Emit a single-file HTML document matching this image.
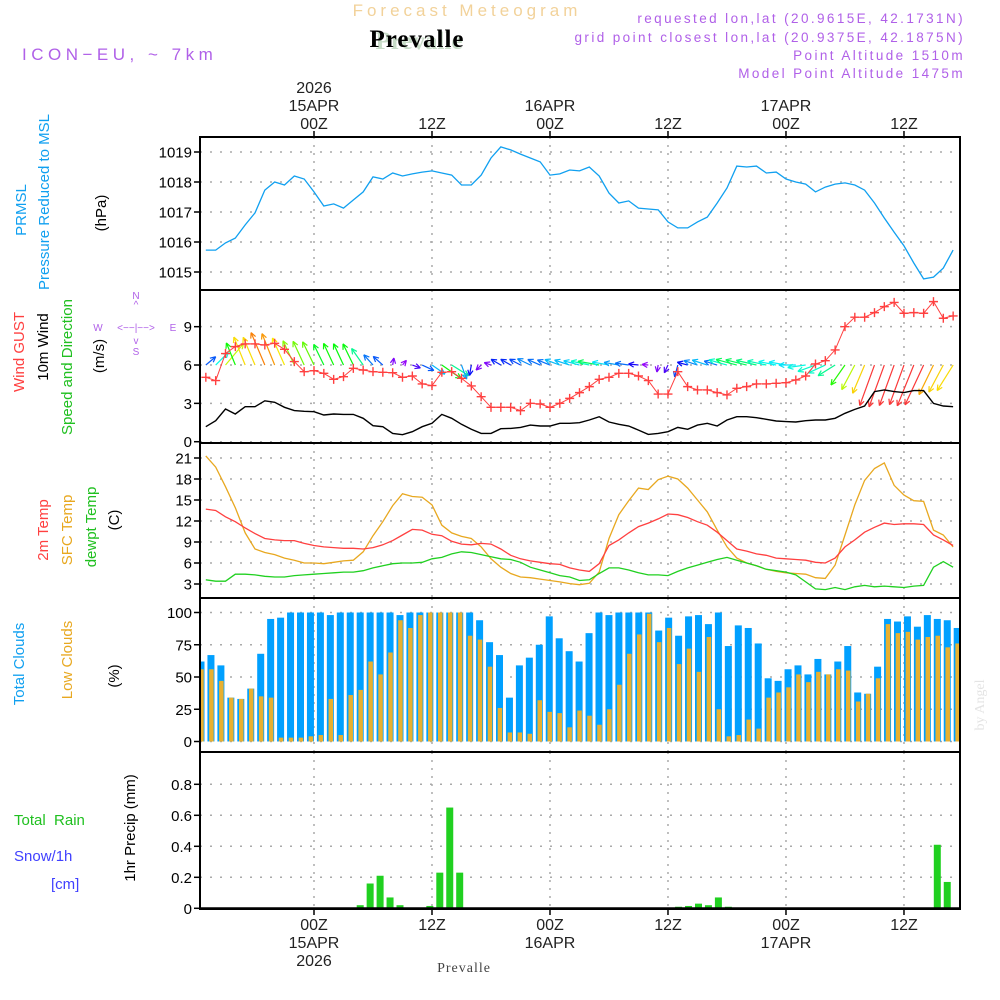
<!DOCTYPE html>
<html><head><meta charset="utf-8"><style>
html,body{margin:0;padding:0;background:#fff;}
svg{display:block;font-family:"Liberation Sans",sans-serif;}
</style></head><body>
<svg id="chart" width="1000" height="1000" viewBox="0 0 1000 1000">
<g id="texts">
<text x="467" y="16" text-anchor="middle" font-size="17" fill="#f2d29a" letter-spacing="4">Forecast Meteogram</text>
<text x="419" y="49" text-anchor="middle" font-size="25" font-weight="bold" fill="#c8dcc8" font-family="Liberation Serif,serif">Prevalle</text>
<text x="417" y="47" text-anchor="middle" font-size="25" font-weight="bold" fill="#000" font-family="Liberation Serif,serif" letter-spacing="1">Prevalle</text>
<text x="22" y="60" font-size="17" fill="#b060e8" letter-spacing="4.5">ICON−EU, ~ 7km</text>
<g font-size="13.5" fill="#b060e8" text-anchor="end" letter-spacing="2.4">
<text x="965" y="23">requested lon,lat (20.9615E, 42.1731N)</text>
<text x="965" y="42">grid point closest lon,lat (20.9375E, 42.1875N)</text>
<text x="965" y="60">Point Altitude 1510m</text>
<text x="965" y="78">Model Point Altitude 1475m</text>
</g>
<text x="464" y="972" text-anchor="middle" font-size="14" fill="#444" font-family="Liberation Serif,serif" letter-spacing="1">Prevalle</text>
<text transform="translate(984,705) rotate(-90)" text-anchor="middle" font-size="14" fill="#e4e4e4" font-family="Liberation Serif,serif">by Angel</text>
<g font-size="15">
<text transform="translate(26,210) rotate(-90)" text-anchor="middle" fill="#10a0f0">PRMSL</text>
<text transform="translate(49,202) rotate(-90)" text-anchor="middle" fill="#10a0f0">Pressure Reduced to MSL</text>
<text transform="translate(106,213) rotate(-90)" text-anchor="middle" fill="#000">(hPa)</text>
<text transform="translate(24,352) rotate(-90)" text-anchor="middle" fill="#ff4040">Wind GUST</text>
<text transform="translate(48,347) rotate(-90)" text-anchor="middle" fill="#000">10m Wind</text>
<text transform="translate(72,367) rotate(-90)" text-anchor="middle" fill="#20c020">Speed and Direction</text>
<text transform="translate(104,356) rotate(-90)" text-anchor="middle" fill="#000">(m/s)</text>
<text transform="translate(48,530) rotate(-90)" text-anchor="middle" fill="#ff4040">2m Temp</text>
<text transform="translate(72,530) rotate(-90)" text-anchor="middle" fill="#e8a820">SFC Temp</text>
<text transform="translate(96,527) rotate(-90)" text-anchor="middle" fill="#20c020">dewpt Temp</text>
<text transform="translate(119,520) rotate(-90)" text-anchor="middle" fill="#000">(C)</text>
<text transform="translate(24,664) rotate(-90)" text-anchor="middle" fill="#10a0f0">Total Clouds</text>
<text transform="translate(72,660) rotate(-90)" text-anchor="middle" fill="#e8a820">Low Clouds</text>
<text transform="translate(119,676) rotate(-90)" text-anchor="middle" fill="#000">(%)</text>
<text x="14" y="825" fill="#20c020" xml:space="preserve">Total  Rain</text>
<text x="14" y="861" fill="#4040ff">Snow/1h</text>
<text x="51" y="889" fill="#4040ff">[cm]</text>
<text transform="translate(135,828) rotate(-90)" text-anchor="middle" fill="#000">1hr Precip (mm)</text>
</g>
<g font-size="10" fill="#b060e8" text-anchor="middle">
<text x="136" y="299">N</text><text x="136" y="308">^</text>
<text x="98" y="331">W</text><text x="136" y="331">&lt;−−|−−&gt;</text><text x="173" y="331">E</text>
<text x="136" y="344">v</text><text x="136" y="355">S</text>
</g>
</g>
<g id="grid"></g>
<g id="marks"></g>
<g id="frame"></g>
</svg>
<script>
// ---------------- data ----------------
const hours = [];
for (let h = -11; h <= 65; h++) hours.push(h);
const pressure = [1015.73,1015.73,1015.97,1016.13,1016.57,1016.97,1017.73,1018.0,1017.9,1018.2,1018.1,1017.67,1017.2,1017.27,1017.13,1017.4,1017.67,1018.17,1018.1,1018.3,1018.2,1018.27,1018.33,1018.37,1018.3,1018.23,1017.9,1017.9,1018.23,1018.8,1019.17,1019.07,1018.93,1018.8,1018.67,1018.23,1018.27,1018.4,1018.37,1018.5,1018.2,1017.63,1017.3,1017.37,1017.13,1017.1,1017.07,1016.67,1016.47,1016.47,1016.67,1016.83,1017.3,1017.8,1018.53,1018.5,1018.53,1018.3,1018.33,1018.1,1018.0,1017.93,1017.67,1017.83,1017.93,1017.97,1017.9,1017.73,1017.3,1016.8,1016.33,1015.87,1015.3,1014.77,1014.83,1015.13,1015.73];
const windSpeed = [1.17,1.64,2.56,2.17,2.74,2.74,3.2,3.08,2.69,2.43,2.38,2.35,2.09,2.17,2.14,2.14,1.83,1.25,1.17,0.65,0.55,0.78,1.17,1.44,2.14,1.83,1.36,0.97,0.65,0.65,1.02,1.04,1.12,1.3,1.23,1.23,1.44,1.44,1.49,1.7,1.96,1.54,1.36,1.23,0.91,0.57,0.65,0.78,1.12,0.97,1.3,1.44,1.23,1.7,1.96,1.96,1.88,1.75,1.62,1.57,1.54,1.64,1.7,1.7,1.83,2.22,2.53,2.79,3.92,4.05,3.92,3.84,4.0,4.0,3.0,2.79,2.74];
const windGust = [5.04,4.78,6.9,7.44,7.65,7.65,7.57,7.7,7.23,6.27,5.48,5.56,5.35,4.88,5.09,5.74,5.61,5.48,5.43,5.4,5.04,5.14,4.52,4.39,5.43,5.48,4.96,4.36,3.52,2.69,2.69,2.69,2.43,3.0,2.95,2.69,3.0,3.39,3.84,4.31,4.88,5.04,5.35,5.35,5.14,4.78,3.73,3.73,5.48,4.31,4.05,4.05,3.84,3.66,4.18,4.31,4.52,4.52,4.57,4.62,4.83,5.14,6.08,6.34,7.18,9.0,9.74,9.74,10.1,10.57,10.9,10.05,10.1,10.05,10.96,9.66,9.84];
// direction the arrow points (deg, 0 = up/north, clockwise)
const windDir = [50,45,40,338,338,337,337,338,336,335,335,334,334,335,335,334,325,318,312,10,40,110,115,125,125,122,160,190,225,290,300,300,298,296,294,292,290,288,285,282,280,280,280,278,276,275,190,205,195,285,288,288,287,286,285,284,283,282,281,280,270,262,250,245,238,215,208,203,200,200,200,200,202,205,206,208,212];
const temp2m = [13.7,13.5,12.6,11.9,11.0,10.2,9.5,9.3,9.2,9.2,8.8,8.5,8.3,8.2,8.1,8.1,8.0,8.2,8.6,9.2,10.0,10.8,10.7,10.1,9.9,9.1,8.7,8.6,8.8,8.7,8.0,7.1,6.6,6.3,6.1,5.9,5.8,5.3,5.0,4.8,5.9,8.5,9.3,10.3,11.2,11.7,12.3,13.0,12.9,12.5,11.9,11.4,10.4,9.2,8.0,7.7,7.3,7.1,6.7,6.6,6.5,6.4,6.1,6.0,6.7,8.3,9.3,10.4,11.1,11.7,11.5,11.6,11.6,11.5,10.0,9.3,8.5];
const sfcTemp = [21.3,19.7,16.9,13.9,10.3,8.0,7.5,7.2,6.7,6.4,6.0,6.0,5.9,6.1,6.3,6.4,7.6,9.9,11.9,14.2,15.9,15.5,15.4,14.3,11.4,10.3,9.8,9.5,8.3,6.6,5.4,4.5,4.0,3.9,3.7,3.5,3.3,3.05,2.9,3.1,4.7,9.5,12.9,14.9,16.7,16.5,17.9,18.4,18.0,16.7,15.0,13.3,10.7,8.3,6.7,6.0,5.6,5.1,4.8,4.6,4.5,4.4,3.9,3.8,5.7,10.0,14.3,17.8,19.5,20.3,17.1,15.7,14.9,14.8,10.7,10.0,8.3];
const dewpt = [3.6,3.4,3.4,4.4,4.4,4.3,4.1,4.0,4.0,4.2,4.3,4.4,4.5,4.6,4.7,4.7,4.9,5.3,5.6,5.9,6.0,6.0,6.1,6.6,6.8,7.3,7.6,7.5,7.2,6.9,6.6,6.5,6.1,5.4,5.0,4.6,4.2,4.0,3.5,3.6,4.5,5.3,5.3,5.0,4.6,4.3,4.3,4.2,4.8,5.3,5.7,6.1,6.5,6.8,6.4,6.0,5.6,5.1,4.9,4.7,4.3,3.3,2.3,2.2,2.5,2.2,2.6,2.8,2.6,2.7,2.6,2.5,2.7,2.8,5.4,6.2,5.4];
const totalClouds = [62,67,59,34,33,41,68,95,96,100,100,100,100,98,100,100,100,100,100,100,98,100,100,100,100,100,100,100,94,77,67,34,59,65,75,97,80,70,62,84,100,98,100,100,100,100,86,96,82,97,98,91,100,74,90,88,76,49,47,56,59,52,64,52,62,74,38,37,58,95,93,97,89,98,95,94,88];
const lowClouds = [56,56,47,34,33,41,35,34,3,3,3,4,5,33,5,36,40,62,52,69,94,88,98,100,100,100,100,82,79,58,26,7,7,6,32,23,22,11,24,20,13,25,44,68,83,99,77,88,60,72,54,81,25,4,5,17,10,34,38,42,52,46,54,52,56,55,31,37,49,91,84,85,79,81,82,73,76];
const precip = [0,0,0,0,0,0,0,0,0,0,0,0,0,0,0,0,0.02,0.16,0.21,0.07,0.02,0,0,0.015,0.23,0.65,0.23,0,0,0,0,0,0,0,0,0,0,0,0,0,0,0,0,0,0,0,0,0,0.01,0.015,0.03,0.02,0.07,0.01,0,0,0,0,0,0,0,0,0,0,0,0,0,0,0,0,0,0,0,0,0.41,0.17,0];
const pressTicks = [1015,1016,1017,1018,1019];
const windTicks = [0,3,6,9];
const tempTicks = [3,6,9,12,15,18,21];
const cloudTicks = [0,25,50,75,100];
const precipTicks = [0,0.2,0.4,0.6,0.8];
const timeTicks = [0,12,24,36,48,60];
const timeTopLabels = [["2026","15APR","00Z"],["","","12Z"],["","16APR","00Z"],["","","12Z"],["","17APR","00Z"],["","","12Z"]];
const timeBottomLabels = [["00Z","15APR","2026"],["12Z","",""],["00Z","16APR",""],["12Z","",""],["00Z","17APR",""],["12Z","",""]];

// ---------------- scales ----------------
const X0 = 200, X1 = 960;
const xT = h => 314 + h * 9.833;
const xBar = k => 201 + k * 9.95;
const yP = v => 272 - (v - 1015) * 30;
const yW = v => 441.7 - v * 12.78;
const yT = v => 584 - (v - 3) * 7;
const yC = v => 741.5 - v * 1.29;
const yR = v => 908.3 - v * 155;
const panels = [
  {top:137,bot:290,ticks:pressTicks,y:yP,name:'pressure',fmt:v=>v},
  {top:290,bot:443,ticks:windTicks,y:yW,name:'wind',fmt:v=>v},
  {top:443,bot:598,ticks:tempTicks,y:yT,name:'temp',fmt:v=>v},
  {top:598,bot:752,ticks:cloudTicks,y:yC,name:'clouds',fmt:v=>v},
  {top:752,bot:909,ticks:precipTicks,y:yR,name:'precip',fmt:v=>v===0?'0':v.toFixed(1)}
];
const NS = 'http://www.w3.org/2000/svg';
function mk(tag, attrs, parent) {
  const e = document.createElementNS(NS, tag);
  for (const k in attrs) e.setAttribute(k, attrs[k]);
  parent.appendChild(e);
  return e;
}
const grid = document.getElementById('grid');
const marks = document.getElementById('marks');
const frame = document.getElementById('frame');
const defs = mk('defs', {}, document.getElementById('chart'));
panels.forEach((p, i) => {
  const cp = mk('clipPath', {id: 'clip' + i}, defs);
  mk('rect', {x: X0, y: p.top, width: X1 - X0, height: p.bot - p.top}, cp);
});

panels.forEach((p, i) => {
  p.ticks.forEach(t => {
    const y = p.y(t);
    const gl = mk('line', {x1: X0, x2: X1, y1: y, y2: y, stroke: '#aaa', 'stroke-width': 1.5, 'stroke-dasharray': '2,8'}, grid);
    
    
    const tk = mk('line', {x1: X0 - 6, x2: X0, y1: y, y2: y, stroke: '#000', 'stroke-width': 1.5}, frame);
    
    
    const lb = mk('text', {x: X0 - 8, y: y + 5.5, 'text-anchor': 'end', 'font-size': 15, fill: '#000'}, frame);
    lb.textContent = p.fmt(t);
    
    
  });
  timeTicks.forEach(h => {
    const x = xT(h);
    const vl = mk('line', {x1: x, x2: x, y1: p.top, y2: p.bot, stroke: '#aaa', 'stroke-width': 1.5, 'stroke-dasharray': '2,6'}, grid);
    
    
  });
});
timeTicks.forEach((h, i) => {
  const x = xT(h);
  mk('line', {x1: x, x2: x, y1: 131, y2: 137, stroke: '#000', 'stroke-width': 1.5}, frame);
  mk('line', {x1: x, x2: x, y1: 909, y2: 915, stroke: '#000', 'stroke-width': 1.5}, frame);
  timeTopLabels[i].forEach((s, j) => {
    if (!s) return;
    const t = mk('text', {x: x, y: 93 + j * 18, 'text-anchor': 'middle', 'font-size': 16, fill: '#222'}, frame);
    t.textContent = s;
    
    
  });
  timeBottomLabels[i].forEach((s, j) => {
    if (!s) return;
    const t = mk('text', {x: x, y: 930 + j * 18, 'text-anchor': 'middle', 'font-size': 16, fill: '#222'}, frame);
    t.textContent = s;
    
    
  });
});

function polyline(vals, yf, color, clip, name, w) {
  const pts = vals.map((v, i) => xT(hours[i]).toFixed(1) + ',' + yf(v).toFixed(1)).join(' ');
  const pl = mk('polyline', {points: pts, fill: 'none', stroke: color, 'stroke-width': w || 1.3, 'clip-path': 'url(#clip' + clip + ')'}, marks);
  
  
  return pl;
}
polyline(pressure, yP, '#10a0f0', 0, 'pressure-line');
const gA = mk('g', {'clip-path': 'url(#clip1)'}, marks);
const hueStops = [[0.6,275],[1.0,235],[1.5,190],[2.2,115],[2.7,55],[3.2,30],[3.8,0]];
function arrowColor(s) {
  let hue = 0;
  if (s <= hueStops[0][0]) hue = hueStops[0][1];
  else if (s >= hueStops[hueStops.length-1][0]) hue = 0;
  else for (let i = 0; i < hueStops.length - 1; i++) {
    const a = hueStops[i], b = hueStops[i+1];
    if (s >= a[0] && s <= b[0]) { hue = a[1] + (b[1]-a[1]) * (s-a[0])/(b[0]-a[0]); break; }
  }
  return 'hsl(' + hue + ',95%,' + (hue < 20 ? 60 : 50) + '%)';
}
windSpeed.forEach((s, i) => {
  const x0 = xT(hours[i]), y0 = yW(6);
  const a = windDir[i] * Math.PI / 180, L = 11 * s;
  const x1 = x0 + Math.sin(a) * L, y1 = y0 - Math.cos(a) * L;
  const c = arrowColor(s);
  const g = mk('g', {stroke: c, 'stroke-width': 1.2, fill: 'none'}, gA);
  
  
  mk('line', {x1: x0, y1: y0, x2: x1, y2: y1}, g);
  const hl = 6;
  [a + Math.PI - 0.45, a + Math.PI + 0.45].forEach(b => {
    mk('line', {x1: x1, y1: y1, x2: x1 + Math.sin(b) * hl, y2: y1 - Math.cos(b) * hl}, g);
  });
});
polyline(windSpeed, yW, '#000', 1, 'wind-speed-line', 1.4);
polyline(windGust, yW, '#ff4040', 1, 'wind-gust-line', 1);
windGust.forEach((v, i) => {
  const x = xT(hours[i]), y = yW(v);
  const m = mk('path', {d: 'M' + (x - 4.5) + ',' + y + 'h9M' + x + ',' + (y - 4.5) + 'v9', stroke: '#ff4040', 'stroke-width': 1.4}, marks);
  
  
});
polyline(sfcTemp, yT, '#e8a820', 2, 'sfc-temp-line');
polyline(temp2m, yT, '#ff4040', 2, 'temp-2m-line');
polyline(dewpt, yT, '#20d020', 2, 'dewpt-line');
const gC = mk('g', {'clip-path': 'url(#clip3)'}, marks);
totalClouds.forEach((v, k) => {
  const x = xBar(k), y = yC(v);
  const r = mk('rect', {x: x - 3.5, y: y, width: 7, height: yC(0) - y, fill: '#00a0ff'}, gC);
  
  
});
lowClouds.forEach((v, k) => {
  const x = xBar(k), y = yC(v);
  const r = mk('rect', {x: x - 1.8, y: y, width: 4.5, height: yC(0) - y, fill: '#e8b030'}, gC);
  
  
});
const gR = mk('g', {'clip-path': 'url(#clip4)'}, marks);
precip.forEach((v, k) => {
  if (v <= 0) return;
  const x = xBar(k), y = yR(v);
  const r = mk('rect', {x: x - 3.5, y: y, width: 7, height: yR(0) - y, fill: '#20d020'}, gR);
  
  
});
mk('line', {x1: X0, x2: X1, y1: yR(0), y2: yR(0), stroke: '#000', 'stroke-width': 2}, frame);
panels.forEach((p, i) => {
  const r = mk('rect', {x: X0, y: p.top, width: X1 - X0, height: p.bot - p.top, fill: 'none', stroke: '#000', 'stroke-width': 2}, frame);
  
  
});
</script>
</body></html>
